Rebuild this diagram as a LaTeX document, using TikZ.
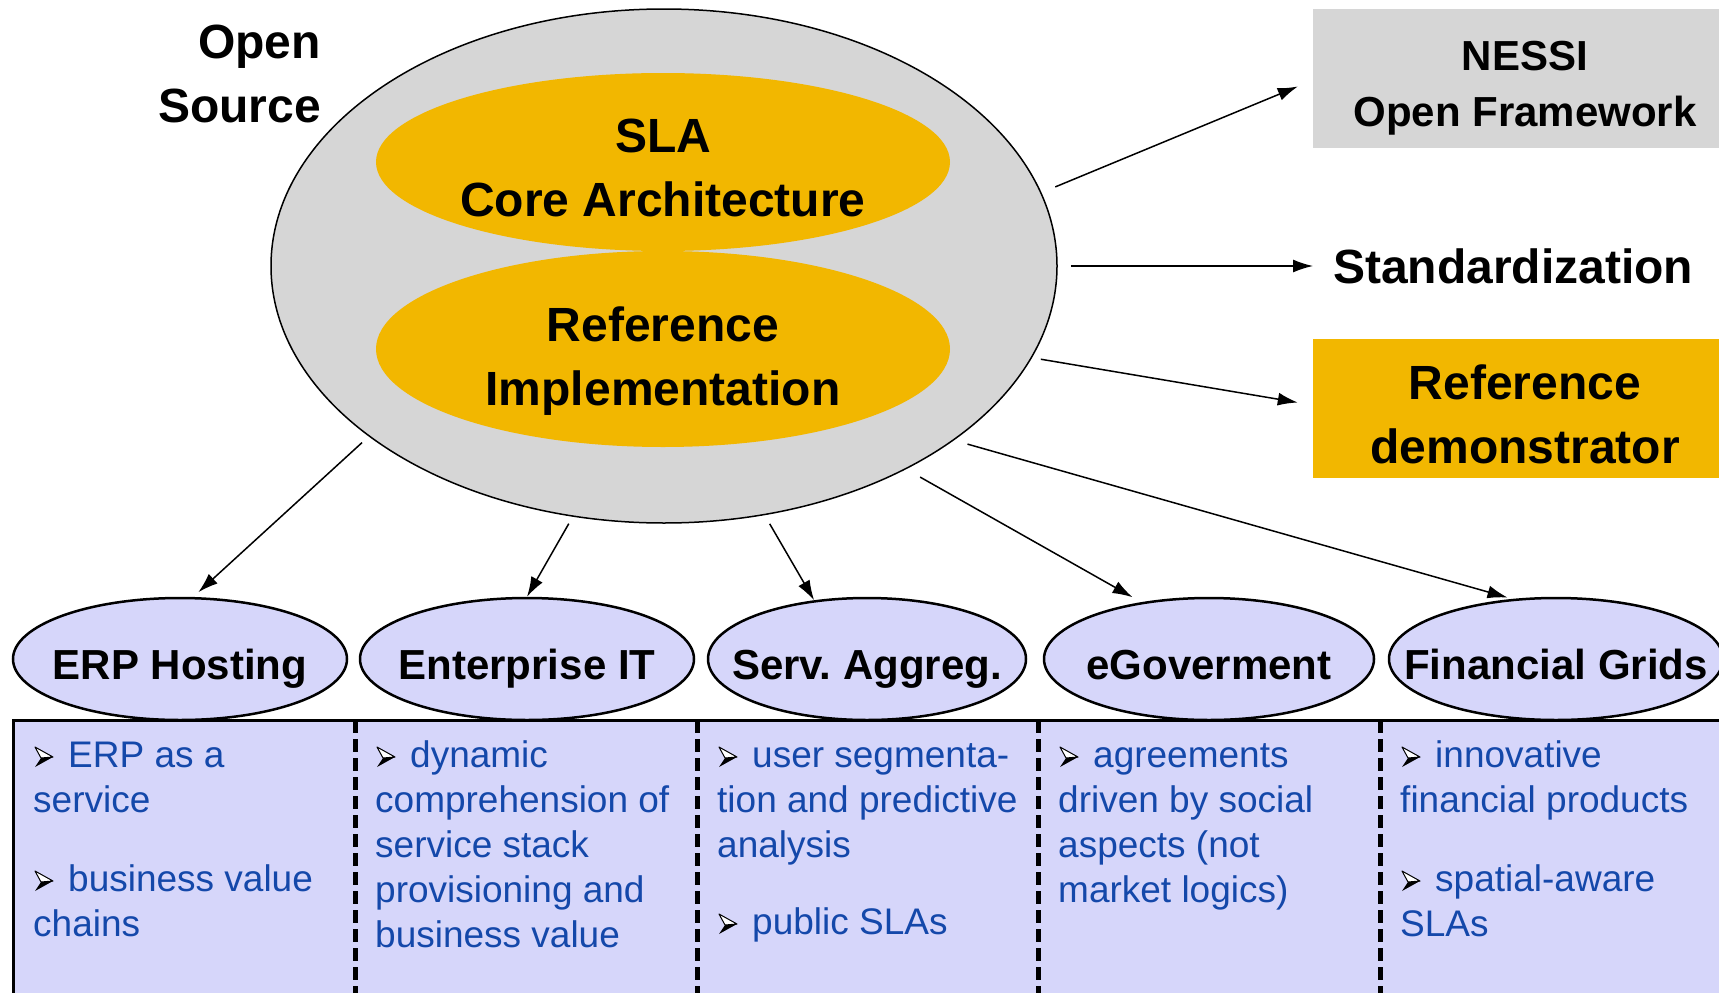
\documentclass[tikz,border=0pt]{standalone}
\usepackage{fontspec}
\setmainfont{Liberation Sans}
\usetikzlibrary{shapes.geometric,arrows.meta}
\definecolor{grisclair}{RGB}{214,214,214}
\definecolor{ocre}{RGB}{242,183,0}
\definecolor{lavande}{RGB}{214,214,250}
\definecolor{bleutxt}{RGB}{20,72,170}
\newcommand{\retrait}{\hspace{35pt}}
\newcommand{\dom}[1]{\makebox[0pt]{#1}}

\begin{document}
\begin{tikzpicture}[x=1pt,y=-1pt,
  titre/.style={font=\bfseries\fontsize{48}{64}\selectfont,align=center},
  domaine/.style={ellipse,draw,line width=2.5pt,fill=lavande,minimum width=334pt,minimum height=122pt,inner sep=0pt,text height=40pt,text depth=0pt,font=\bfseries\fontsize{42}{50}\selectfont},
  cellule/.style={anchor=north west,align=left,inner sep=0pt,text=bleutxt,font=\fontsize{37}{45}\selectfont},
  fleche/.style={->,>={Latex[length=20pt,width=13pt]},line width=1.5pt},
  puce/.pic={\draw[line width=1pt,fill=white,line join=round] (0,0) -- (18,10) -- (6,11) -- cycle;
    \fill[black] (6,11) -- (18,10) -- (0,20) -- cycle;}]
\useasboundingbox (0,0) rectangle (1719,993);
\clip (0,0) rectangle (1719,993);
% panneau du bas
\fill [lavande] (13,720) rectangle (1740,1010);
\draw [line width=3pt] (13,1010) -- (13,720) -- (1740,720);
\foreach \x in {355,697,1038,1380}
  \draw [line width=5pt,dash pattern=on 13pt off 6pt] (\x,720) -- (\x,993);
% noyau
\node [ellipse,draw,line width=1.5pt,fill=grisclair,minimum width=786pt,minimum height=514pt,inner sep=0pt] (noyau) at (664,266) {};
\node [ellipse,fill=ocre,minimum width=574pt,minimum height=178pt,inner sep=0pt,titre,text height=109pt,text depth=0pt] (sla) at (663,162) {SLA\\Core Architecture};
\node [ellipse,fill=ocre,minimum width=574pt,minimum height=196pt,inner sep=0pt,titre,text height=112pt,text depth=0pt] (impl) at (663,349) {Reference\\Implementation};
\node [titre,align=right,anchor=east,inner sep=0pt] (os) at (321,74) {Open\\Source};
% a droite
\node [fill=grisclair,minimum width=424pt,minimum height=139pt,inner sep=0pt,text height=96pt,text depth=0pt,font=\bfseries\fontsize{42}{56}\selectfont,align=center] (nessi) at (1525,78.5) {NESSI\\Open Framework};
\node [titre,anchor=west,inner sep=0pt] (std) at (1333,266) {Standardization};
\node [fill=ocre,minimum width=424pt,minimum height=139pt,inner sep=0pt,text height=110pt,text depth=0pt,titre] (demo) at (1525,408.5) {Reference\\demonstrator};
% domaines
\node [domaine] (erp) at (180,659) {\dom{ERP Hosting}};
\node [domaine] (ent) at (527,659) {\dom{Enterprise IT}};
\node [domaine,minimum width=318pt] (serv) at (867,659) {\dom{Serv.\ Aggreg.}};
\node [domaine,minimum width=330pt] (egov) at (1209,659) {\dom{eGoverment}};
\node [domaine] (fin) at (1556,659) {\dom{Financial Grids}};
% textes
\node [cellule] (terp) at (33,735.5) {\strut\retrait ERP as a\\service\\[34pt]\retrait business value\\chains};
\node [cellule] (tent) at (375,735.5) {\strut\retrait dynamic\\comprehension of\\service stack\\provisioning and\\business value};
\node [cellule] (tserv) at (717,735.5) {\strut\retrait user segmenta-\\tion and predictive\\analysis\\[32pt]\retrait public SLAs};
\node [cellule] (tegov) at (1058,735.5) {\strut\retrait agreements\\driven by social\\aspects (not\\market logics)};
\node [cellule] (tfin) at (1400,735.5) {\strut\retrait innovative\\financial products\\[34pt]\retrait spatial-aware\\SLAs};
% puces
\foreach \bx/\by in {35/747,377/747,719/747,1060/747,1402/747,35/871,719/914,1402/871}
  \pic at (\bx,\by) {puce};
% fleches
\draw [fleche,shorten <=15pt] (noyau.11) -- ([xshift=-15pt,yshift=-8pt]nessi.west);
\draw [fleche,shorten <=13pt,shorten >=20pt] (noyau.east) -- (std.west);
\draw [fleche,shorten <=9pt] (noyau.346) -- ([xshift=-15pt,yshift=6pt]demo.west);
\draw [fleche,shorten <=9pt,shorten >=7pt] (noyau.210) -- (erp.78);
\draw [fleche,shorten <=8pt] (noyau.250) -- (ent.north);
\draw [fleche,shorten <=10pt] (noyau.292) -- (serv.132);
\draw [fleche,shorten <=16pt,shorten >=10pt] (noyau.320) -- (egov.140);
\draw [fleche,shorten <=14pt,shorten >=5pt] (noyau.329) -- (fin.126);
\end{tikzpicture}
\end{document}
